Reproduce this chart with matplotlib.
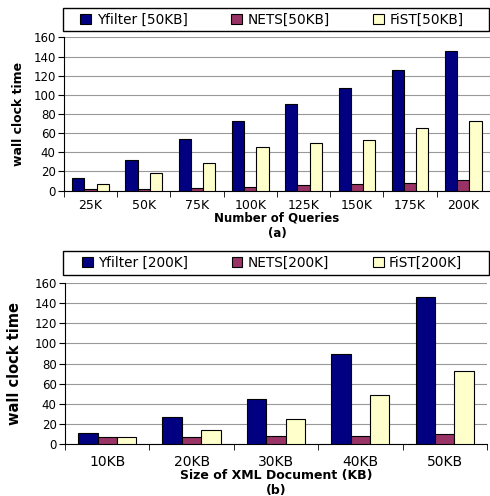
import numpy as np
import matplotlib
matplotlib.use('Agg')
import matplotlib.pyplot as plt
from matplotlib.patches import Rectangle

plt.rcParams['font.family'] = ['DejaVu Sans']

# (a) varying number of queries, 50KB documents
queries = ['25K', '50K', '75K', '100K', '125K', '150K', '175K', '200K']
yfilter_a = [13, 32, 54, 73, 90, 107, 126, 146]
nets_a = [2, 2, 3, 4, 6, 7, 8, 11]
fist_a = [7, 18, 29, 46, 50, 53, 65, 73]

# (b) varying document size, 200K queries
sizes = ['10KB', '20KB', '30KB', '40KB', '50KB']
yfilter_b = [11, 27, 45, 89, 146]
nets_b = [7, 7, 8, 8, 10]
fist_b = [7, 14, 25, 49, 73]

colors = ['#000080', '#993366', '#FFFFCC']


def draw_panel(fig, rect, leg_rect, cats, series, names, xlabel, tag, ylab_size, tick_size, xlab_size, tickpad, ylpad):
	ax = fig.add_axes(rect)
	x = np.arange(len(cats))
	w = 0.23
	bars = []
	for i, (vals, c) in enumerate(zip(series, colors)):
		b = ax.bar(x + (i - 1) * w, vals, w, color=c, edgecolor='black', linewidth=0.8, zorder=3)
		bars.append(b)
	ax.set_xlim(-0.5, len(cats) - 0.5)
	ax.set_ylim(0, 160)
	ax.set_yticks(range(0, 161, 20))
	ax.yaxis.grid(True, color='#999999', linewidth=0.8, zorder=0)
	ax.set_xticks(x)
	ax.set_xticklabels(cats, fontsize=tick_size)
	ax.tick_params(axis='x', length=0, pad=tickpad)
	ax.set_xticks(np.arange(len(cats) + 1) - 0.5, minor=True)
	ax.tick_params(axis='x', which='minor', length=4, direction='out')
	ax.tick_params(axis='y', labelsize=8.5, length=4, pad=2)
	for s in ['top', 'right']:
		ax.spines[s].set_visible(False)
	ax.set_ylabel('wall clock time', fontsize=ylab_size, fontweight='bold', labelpad=ylpad)
	ax.set_xlabel(xlabel + '\n' + tag, fontsize=xlab_size, fontweight='bold', labelpad=0, linespacing=1.2)

	# legend box spanning the plot width
	box = Rectangle((leg_rect[0], leg_rect[1]), leg_rect[2], leg_rect[3], transform=fig.transFigure,
	                facecolor='white', edgecolor='black', linewidth=1.0)
	fig.add_artist(box)
	fig.legend(bars, names, loc='center', bbox_to_anchor=(leg_rect[0] + leg_rect[2] / 2 - 0.008, leg_rect[1] + leg_rect[3] / 2),
	           ncol=3, fontsize=9.8, frameon=False, handlelength=0.8, handleheight=0.8,
	           handletextpad=0.4, columnspacing=3.2, borderpad=0)
	return ax


fig = plt.figure(figsize=(4.9, 4.96), dpi=100)

draw_panel(fig, [0.1306, 0.6157, 0.8694, 0.3087], (0.1286, 0.9375, 0.869, 0.0464),
           queries, [yfilter_a, nets_a, fist_a],
           ['Yfilter [50KB]', 'NETS[50KB]', 'FiST[50KB]'],
           'Number of Queries', '(a)', 9, 9, 8.5, 6, 6)

draw_panel(fig, [0.1327, 0.1048, 0.861, 0.3246], (0.1286, 0.4456, 0.869, 0.0484),
           sizes, [yfilter_b, nets_b, fist_b],
           ['Yfilter [200K]', 'NETS[200K]', 'FiST[200K]'],
           'Size of XML Document (KB)', '(b)', 10.5, 10, 9, 8, 9)

fig.savefig('out.png', dpi=100)
